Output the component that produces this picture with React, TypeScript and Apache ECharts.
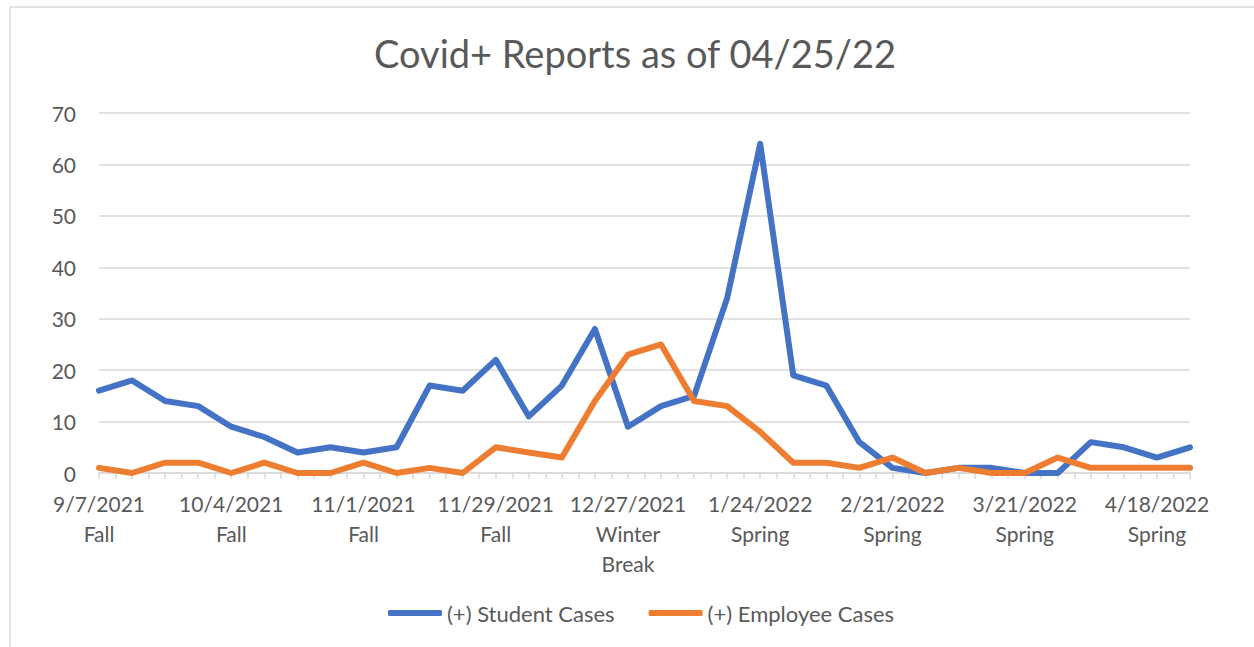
import React, { useEffect, useRef } from "react";
import * as echarts from "echarts";

const dates = [
  "9/7/2021", "9/13/2021", "9/20/2021", "9/27/2021",
  "10/4/2021", "10/11/2021", "10/18/2021", "10/25/2021",
  "11/1/2021", "11/8/2021", "11/15/2021", "11/22/2021", "11/29/2021",
  "12/6/2021", "12/13/2021", "12/20/2021", "12/27/2021",
  "1/3/2022", "1/10/2022", "1/17/2022", "1/24/2022", "1/31/2022",
  "2/7/2022", "2/14/2022", "2/21/2022", "2/28/2022",
  "3/7/2022", "3/14/2022", "3/21/2022", "3/28/2022",
  "4/4/2022", "4/11/2022", "4/18/2022", "4/25/2022",
];

const terms = [
  "Fall", "Fall", "Fall", "Fall", "Fall", "Fall", "Fall", "Fall", "Fall", "Fall",
  "Fall", "Fall", "Fall", "Fall", "Fall",
  "Winter Break", "Winter Break", "Winter Break",
  "Spring", "Spring", "Spring", "Spring", "Spring", "Spring", "Spring", "Spring",
  "Spring", "Spring", "Spring", "Spring", "Spring", "Spring", "Spring", "Spring",
];

const studentCases = [16, 18, 14, 13, 9, 7, 4, 5, 4, 5, 17, 16, 22, 11, 17, 28, 9, 13, 15, 34, 64, 19, 17, 6, 1, 0, 1, 1, 0, 0, 6, 5, 3, 5];
const employeeCases = [1, 0, 2, 2, 0, 2, 0, 0, 2, 0, 1, 0, 5, 4, 3, 14, 23, 25, 14, 13, 8, 2, 2, 1, 3, 0, 1, 0, 0, 3, 1, 1, 1, 1];

const labelStep = 4;
const yTicks = [0, 10, 20, 30, 40, 50, 60, 70];

const FONT = "Lato, 'Open Sans', sans-serif";
const TEXT = "#595959";
const GRID = "#d9d9d9";

export default function App() {
  const ref = useRef<HTMLDivElement>(null);

  useEffect(() => {
    if (!ref.current) return;
    const chart = echarts.init(ref.current, null, { renderer: "svg" });
    chart.setOption({
      animation: false,
      backgroundColor: "#ffffff",
      textStyle: { fontFamily: FONT },
      graphic: [
        {
          type: "rect",
          shape: { x: 10, y: 7, width: 1400, height: 800 },
          style: { fill: "none", stroke: GRID, lineWidth: 1.5 },
          silent: true,
          z: -1,
        },
      ],
      title: {
        text: "Covid+ Reports as of 04/25/22",
        left: 369,
        top: 29,
        textStyle: { fontFamily: FONT, fontSize: 38, fontWeight: "normal", color: TEXT },
      },
      legend: {
        left: 383,
        top: 597,
        icon: "roundRect",
        itemWidth: 54,
        itemHeight: 6,
        itemGap: 34,
        textStyle: { fontFamily: FONT, fontSize: 22, color: TEXT },
      },
      grid: { left: 99, right: 64, top: 113, bottom: 174, containLabel: false },
      xAxis: {
        type: "value",
        min: 0,
        max: dates.length - 1,
        interval: 0.5,
        axisLine: { show: true, lineStyle: { color: GRID, width: 1.5 } },
        axisTick: { show: true, length: 6, lineStyle: { color: GRID, width: 1.5 } },
        splitLine: { show: false },
        axisLabel: {
          margin: 15,
          color: TEXT,
          fontFamily: FONT,
          fontSize: 21,
          lineHeight: 30,
          showMinLabel: true,
          showMaxLabel: true,
          formatter: (v: number) => {
            if (Math.abs(v - Math.round(v)) > 1e-6) return "";
            const i = Math.round(v);
            if (i % labelStep !== 0 || !dates[i]) return "";
            return dates[i] + "\n" + terms[i].replace(" ", "\n");
          },
        },
      },
      yAxis: {
        type: "value",
        min: yTicks[0],
        max: yTicks[yTicks.length - 1],
        interval: 10,
        axisLine: { show: false },
        axisTick: { show: false },
        splitLine: { show: true, lineStyle: { color: GRID, width: 1.5 } },
        axisLabel: { margin: 23, color: TEXT, fontFamily: FONT, fontSize: 21 },
      },
      series: [
        {
          name: "(+) Student Cases",
          type: "line",
          data: studentCases.map((v, i) => [i, v]),
          symbol: "none",
          color: "#4472C4",
          lineStyle: { width: 6, color: "#4472C4", cap: "round", join: "round" },
          z: 3,
        },
        {
          name: "(+) Employee Cases",
          type: "line",
          data: employeeCases.map((v, i) => [i, v]),
          symbol: "none",
          color: "#ED7D31",
          lineStyle: { width: 6, color: "#ED7D31", cap: "round", join: "round" },
          z: 4,
        },
      ],
    });
    return () => chart.dispose();
  }, []);

  return (
    <div
      ref={ref}
      style={{ position: "fixed", left: 0, top: 0, width: 1254, height: 647, background: "#fff" }}
    />
  );
}
